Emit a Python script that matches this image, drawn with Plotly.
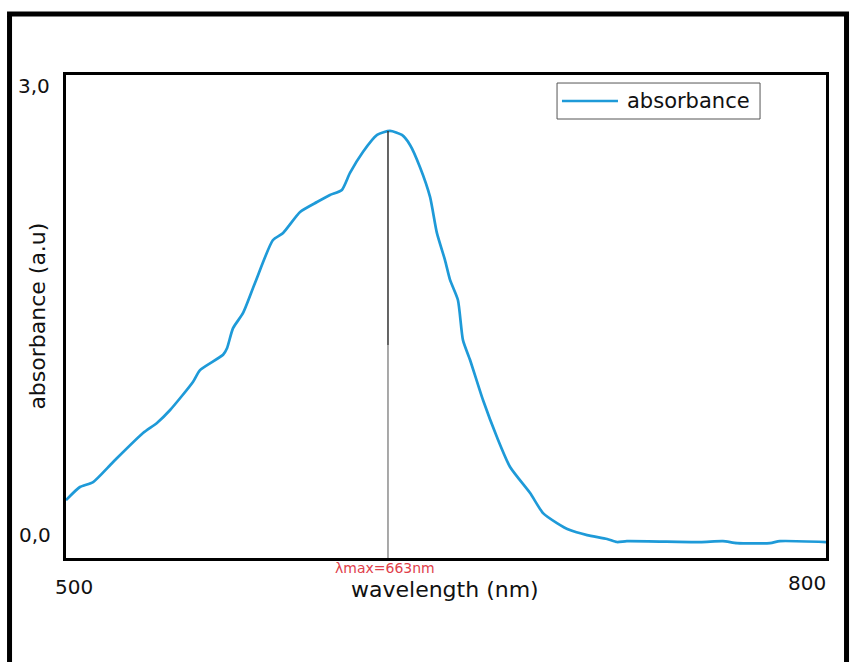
import plotly.graph_objects as go

# ---- data ----
wavelength = [500.0, 505.5, 510.7, 518.6, 530.4, 535.9, 541.1, 550.1, 552.9, 562.0,
              563.6, 565.9, 569.9, 574.6, 581.7, 585.7, 592.4, 599.1, 604.2, 608.9,
              612.1, 617.2, 622.8, 627.9, 632.6, 635.8, 639.7, 643.7, 646.4, 649.6,
              651.6, 654.7, 656.7, 659.5, 664.6, 670.1, 675.3, 683.2, 688.3, 693.8,
              698.9, 705.7, 713.6, 717.5, 721.4, 750.3, 759.3, 764.9, 777.9, 781.8, 800.0]
absorbance = [0.265, 0.352, 0.385, 0.518, 0.710, 0.777, 0.863, 1.049, 1.128, 1.230,
              1.275, 1.405, 1.507, 1.706, 1.991, 2.038, 2.177, 2.243, 2.290, 2.323,
              2.436, 2.575, 2.688, 2.715, 2.688, 2.622, 2.476, 2.277, 2.038, 1.858,
              1.726, 1.593, 1.327, 1.195, 0.929, 0.684, 0.485, 0.312, 0.179, 0.113,
              0.066, 0.033, 0.007, -0.013, -0.007, -0.013, -0.007, -0.020, -0.020, -0.007, -0.013]
x_tick_vals = [500, 800]
x_tick_text = ["500", "800"]
y_tick_vals = [0, 3]
y_tick_text = ["0,0", "3,0"]
series_name = "absorbance"
lambda_label = "λmax=663nm"
line_split_value = 1.294

X_RANGE = [500, 800]
Y_RANGE = [-0.119, 3.086]

FONT = "DejaVu Sans"
BLUE = "#1E9AD8"
TEXT = "#111111"

peak_i = max(range(len(absorbance)), key=lambda i: absorbance[i])
peak_x = wavelength[peak_i]
peak_y = absorbance[peak_i]

fig = go.Figure()
fig.add_trace(go.Scatter(x=wavelength, y=absorbance, mode="lines", name=series_name,
                         line=dict(color=BLUE, width=2.7, shape="spline", smoothing=0.6),
                         showlegend=False))

shapes = []
# lambda max line (dark upper part, grey lower part)
shapes.append(dict(type="line", xref="x", yref="y", x0=peak_x - 0.8, x1=peak_x - 0.8,
                   y0=line_split_value, y1=peak_y, line=dict(color="#333333", width=1.5)))
shapes.append(dict(type="line", xref="x", yref="y", x0=peak_x - 0.8, x1=peak_x - 0.8,
                   y0=Y_RANGE[0], y1=line_split_value, line=dict(color="#707070", width=1.2)))
# outer frame
shapes.append(dict(type="rect", xref="paper", yref="paper", x0=-0.0743, x1=1.027,
                   y0=-0.30, y1=1.1263, line=dict(color="black", width=5)))
# manual legend
shapes.append(dict(type="rect", xref="paper", yref="paper", x0=0.6461, x1=0.9132,
                   y0=0.9089, y1=0.9834, line=dict(color="#555555", width=1),
                   fillcolor="white"))
shapes.append(dict(type="line", xref="paper", yref="paper", x0=0.6526, x1=0.7263,
                   y0=0.9462, y1=0.9462, line=dict(color=BLUE, width=2.7)))

annotations = []
annotations.append(dict(text=series_name, xref="paper", yref="paper", x=0.7355, y=0.9462,
                        xanchor="left", yanchor="middle", showarrow=False,
                        font=dict(family=FONT, size=21, color=TEXT)))
# x tick labels
annotations.append(dict(text=x_tick_text[0], xref="x", yref="paper", x=x_tick_vals[0], y=0,
                        xanchor="center", yanchor="middle", xshift=8, yshift=-29,
                        showarrow=False, font=dict(family=FONT, size=20, color=TEXT)))
annotations.append(dict(text=x_tick_text[1], xref="x", yref="paper", x=x_tick_vals[1], y=0,
                        xanchor="right", yanchor="middle", xshift=2, yshift=-25,
                        showarrow=False, font=dict(family=FONT, size=20, color=TEXT)))
# y tick labels
annotations.append(dict(text=y_tick_text[0], xref="paper", yref="y", x=-0.017, y=y_tick_vals[0],
                        xanchor="right", yanchor="middle", yshift=5,
                        showarrow=False, font=dict(family=FONT, size=20, color=TEXT)))
annotations.append(dict(text=y_tick_text[1], xref="paper", yref="y", x=-0.019, y=y_tick_vals[1],
                        xanchor="right", yanchor="middle", yshift=2,
                        showarrow=False, font=dict(family=FONT, size=20, color=TEXT)))
# lambda max label
annotations.append(dict(text=lambda_label, xref="x", yref="paper", x=peak_x, y=0,
                        xanchor="center", yanchor="top", xshift=-5, yshift=0,
                        showarrow=False, font=dict(family=FONT, size=14, color="#E0404A")))
# axis titles
annotations.append(dict(text="wavelength (nm)", xref="paper", yref="paper", x=0.4987, y=0,
                        xanchor="center", yanchor="middle", yshift=-31,
                        showarrow=False, font=dict(family=FONT, size=22, color=TEXT)))
annotations.append(dict(text="absorbance (a.u)", xref="paper", yref="paper", x=-0.038, y=0.5,
                        xanchor="center", yanchor="middle", textangle=-90,
                        showarrow=False, font=dict(family=FONT, size=22, color=TEXT)))

fig.update_layout(
    width=850, height=662,
    margin=dict(l=66, r=24, t=75, b=104),
    paper_bgcolor="white", plot_bgcolor="white",
    showlegend=False,
    shapes=shapes, annotations=annotations,
    xaxis=dict(range=X_RANGE, showgrid=False, zeroline=False, showticklabels=False,
               ticks="", showline=True, linecolor="black", linewidth=3, mirror=True),
    yaxis=dict(range=Y_RANGE, showgrid=False, zeroline=False, showticklabels=False,
               ticks="", showline=True, linecolor="black", linewidth=3, mirror=True),
)

fig.write_html("out.html")
